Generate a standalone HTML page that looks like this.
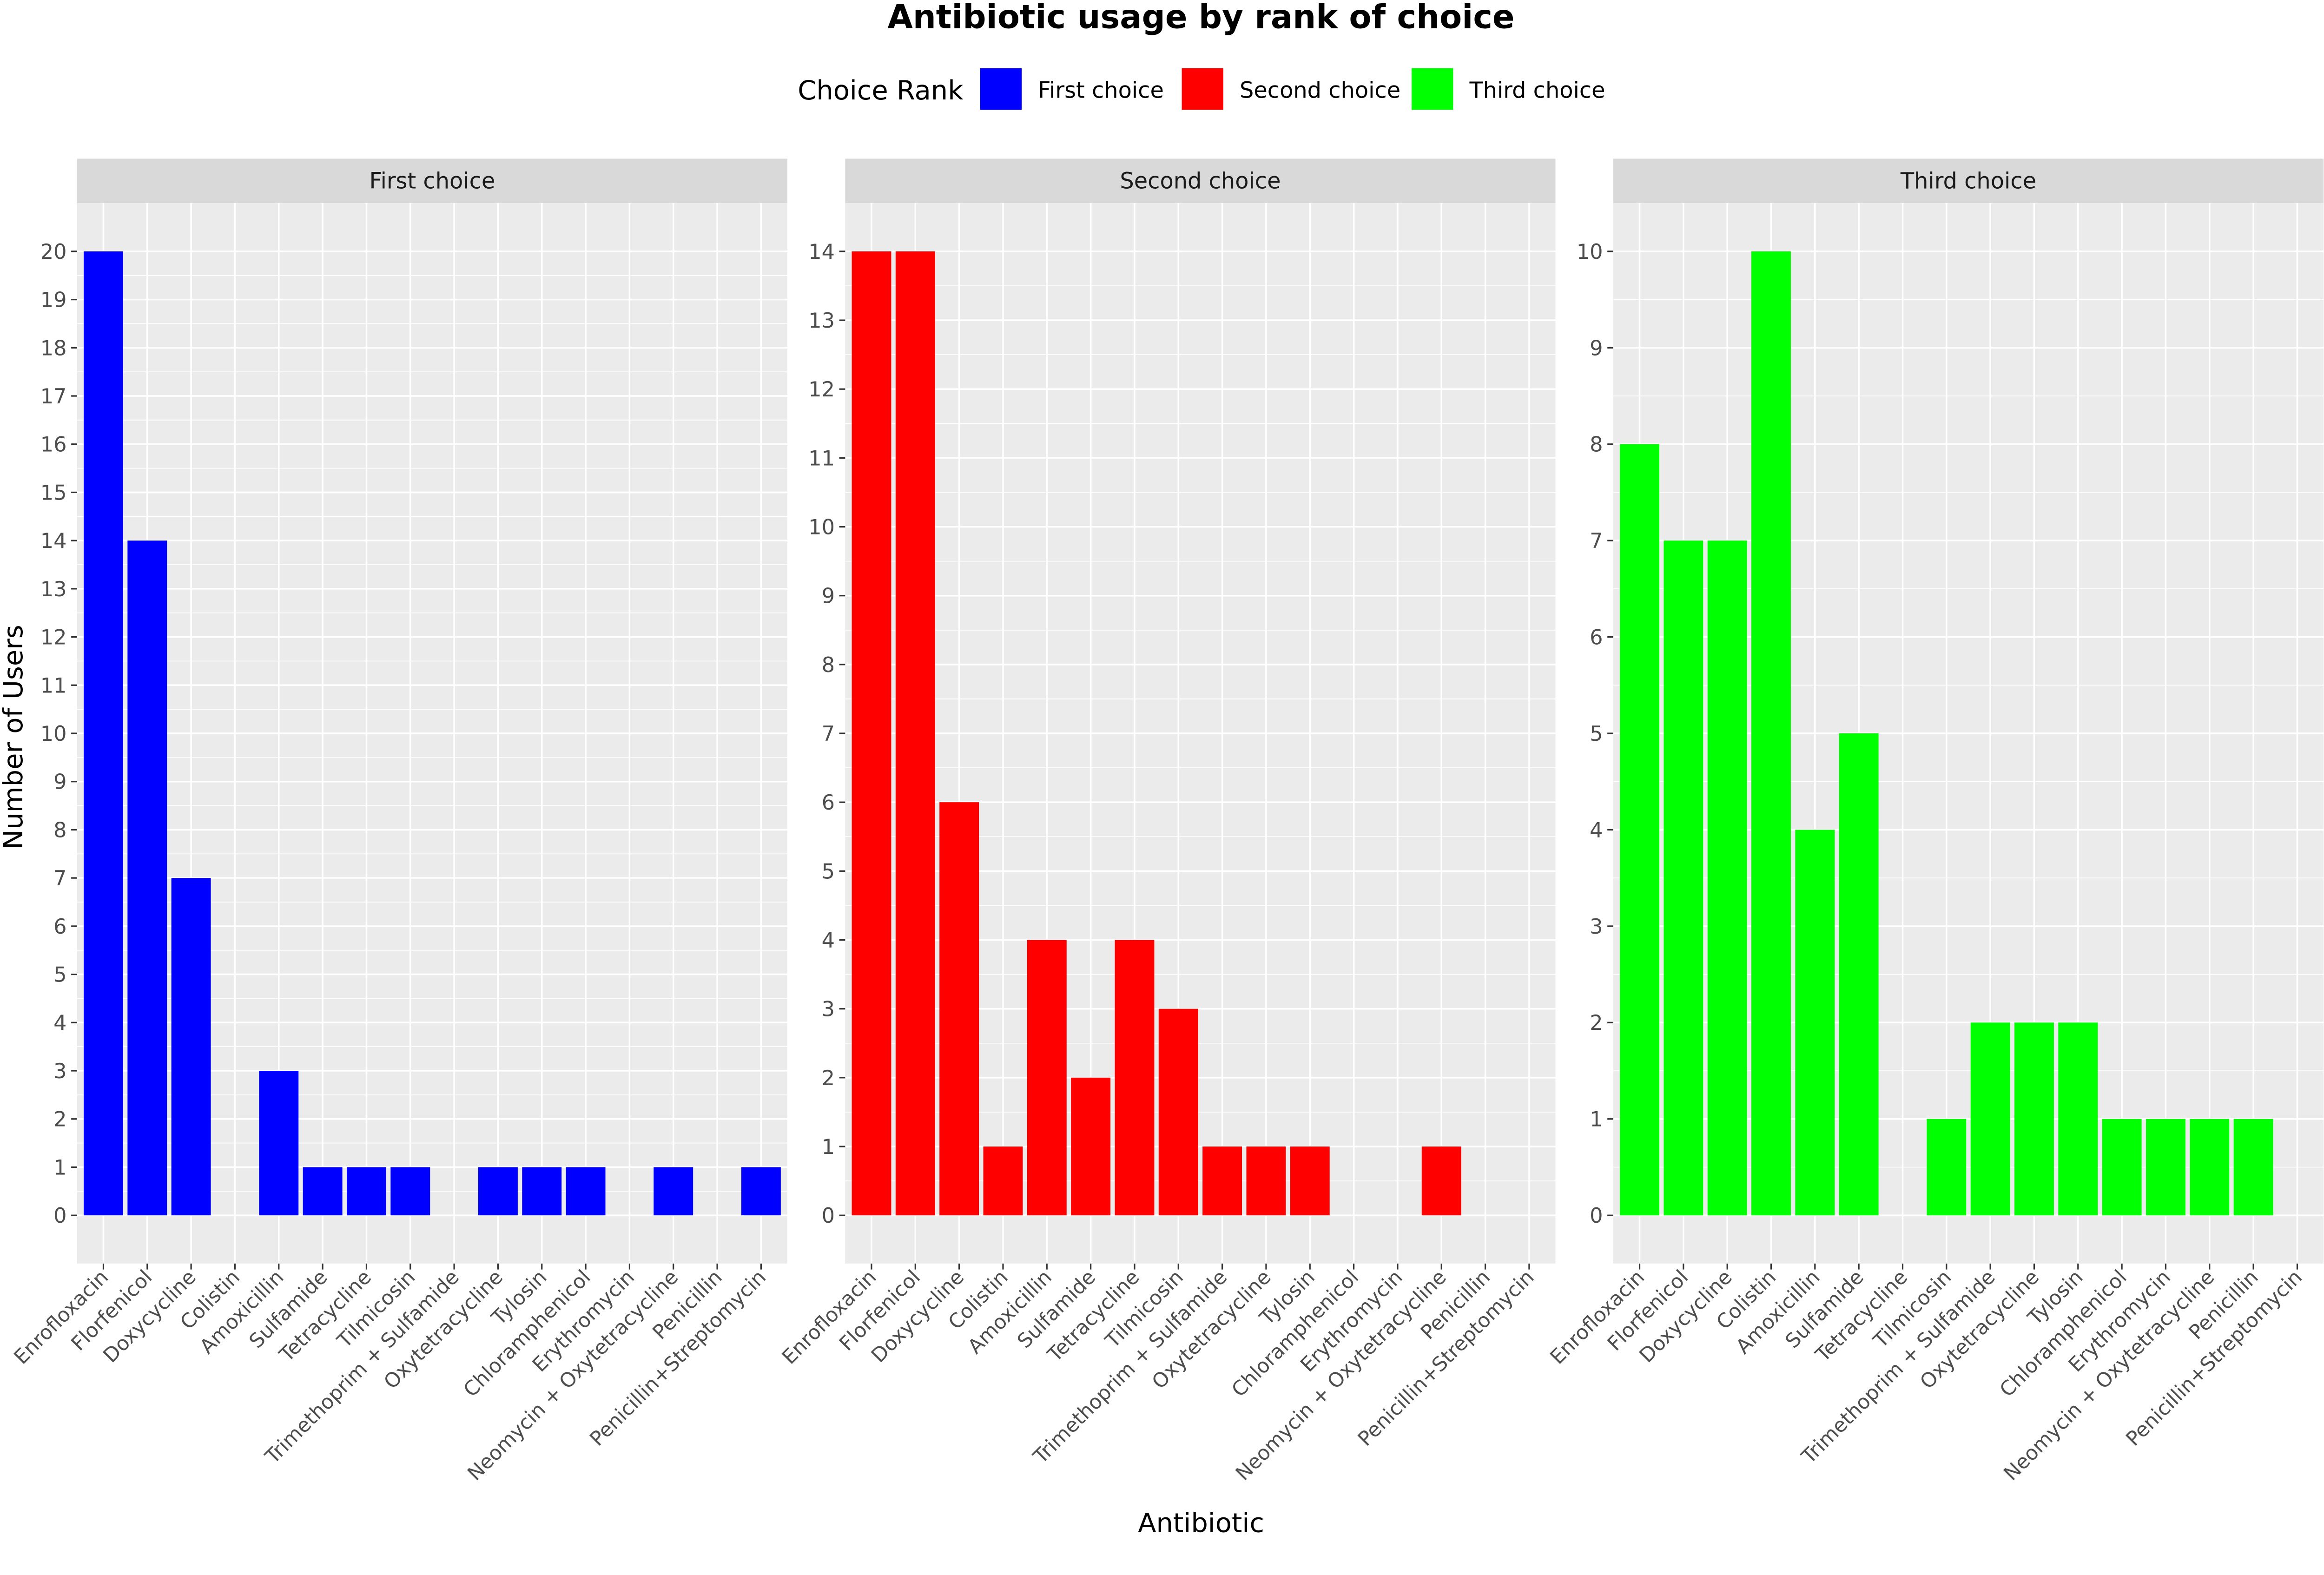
<!DOCTYPE html>
<html><head><meta charset="utf-8"><style>
html,body{margin:0;padding:0;background:#fff;}
svg{display:block;font-family:"DejaVu Sans","Liberation Sans",sans-serif;}
</style></head><body>
<svg id="chart" width="5133" height="3389" viewBox="0 0 1609 1062" preserveAspectRatio="none" xmlns="http://www.w3.org/2000/svg">
<text x="810" y="19" text-anchor="middle" font-size="22" font-weight="bold" fill="#000">Antibiotic usage by rank of choice</text>
<g>
<text x="538" y="67" font-size="18" fill="#000">Choice Rank</text>
<rect x="661" y="46" width="28" height="28" fill="#0000FF"/>
<text x="700" y="66" font-size="15" fill="#000">First choice</text>
<rect x="797" y="46" width="28" height="28" fill="#FF0000"/>
<text x="836" y="66" font-size="15" fill="#000">Second choice</text>
<rect x="952" y="46" width="28" height="28" fill="#00FF00"/>
<text x="991" y="66" font-size="15" fill="#000">Third choice</text>
</g>
<text transform="translate(15,497) rotate(-90)" text-anchor="middle" font-size="18" fill="#000">Number of Users</text>
<text x="810" y="1033" text-anchor="middle" font-size="18" fill="#000">Antibiotic</text>
</svg>
<script>
const categories = ["Enrofloxacin","Florfenicol","Doxycycline","Colistin","Amoxicillin","Sulfamide","Tetracycline","Tilmicosin","Trimethoprim + Sulfamide","Oxytetracycline","Tylosin","Chloramphenicol","Erythromycin","Neomycin + Oxytetracycline","Penicillin","Penicillin+Streptomycin"];
const panelNames = ["First choice","Second choice","Third choice"];
const firstValues = [20,14,7,0,3,1,1,1,0,1,1,1,0,1,0,1];
const secondValues = [14,14,6,1,4,2,4,3,1,1,1,0,0,1,0,0];
const thirdValues = [8,7,7,10,4,5,0,1,2,2,2,1,1,1,1,0];
const yMax = [20,14,10];

(function(){
const svg = document.getElementById('chart');
const NS = "http://www.w3.org/2000/svg";
function mk(tag, attrs, parent){const e=document.createElementNS(NS,tag);for(const k in attrs)e.setAttribute(k,attrs[k]);(parent||svg).appendChild(e);return e;}

const series=[firstValues,secondValues,thirdValues];
const colors=["#0000FF","#FF0000","#00FF00"];
const panelX=[52,570,1088], panelW=479, plotTop=137, plotBottom=852;
for(let p=0;p<3;p++){
  const x0=panelX[p], vals=series[p], ym=yMax[p];
  const exp=ym*0.05;
  const ys=v=> plotBottom-(v+exp)/(ym+2*exp)*(plotBottom-plotTop);
  const n=categories.length;
  const unit=panelW/(n-1+1.2);
  const xs=i=> x0+(0.6+i)*unit;
  const g=mk('g',{});
  
  
  const strip=mk('rect',{x:x0,y:107,width:panelW,height:30,fill:'#D9D9D9'},g);
  
  
  const st=mk('text',{x:x0+panelW/2,y:127,'text-anchor':'middle','font-size':15,fill:'#1A1A1A'},g);
  st.textContent=panelNames[p];
  
  
  const bg=mk('rect',{x:x0,y:plotTop,width:panelW,height:plotBottom-plotTop,fill:'#EBEBEB'},g);
  
  
  for(let v=0;v<ym;v++){mk('line',{x1:x0,x2:x0+panelW,y1:ys(v+0.5),y2:ys(v+0.5),stroke:'#fff','stroke-width':0.5},g);}
  for(let v=0;v<=ym;v++){
    mk('line',{x1:x0,x2:x0+panelW,y1:ys(v),y2:ys(v),stroke:'#fff','stroke-width':1.1},g);
    mk('line',{x1:x0-4,x2:x0,y1:ys(v),y2:ys(v),stroke:'#333','stroke-width':1},g);
    const t=mk('text',{x:x0-7,y:ys(v)+5,'text-anchor':'end','font-size':14,fill:'#4D4D4D'},g);
    t.textContent=v;
    
    
  }
  for(let i=0;i<n;i++){
    mk('line',{x1:xs(i),x2:xs(i),y1:plotTop,y2:plotBottom,stroke:'#fff','stroke-width':1.1},g);
    mk('line',{x1:xs(i),x2:xs(i),y1:plotBottom,y2:plotBottom+4,stroke:'#333','stroke-width':1},g);
    const t=mk('text',{x:xs(i)+4,y:plotBottom+10,'text-anchor':'end','font-size':13.5,fill:'#4D4D4D',transform:`rotate(-45 ${xs(i)+4} ${plotBottom+10})`},g);
    t.textContent=categories[i];
    
    
  }
  for(let i=0;i<n;i++){
    if(vals[i]<=0) continue;
    const b=mk('rect',{x:xs(i)-0.45*unit,width:0.9*unit,y:ys(vals[i]),height:ys(0)-ys(vals[i]),fill:colors[p]},g);
    
    
  }
}
})();
</script>
</body></html>
